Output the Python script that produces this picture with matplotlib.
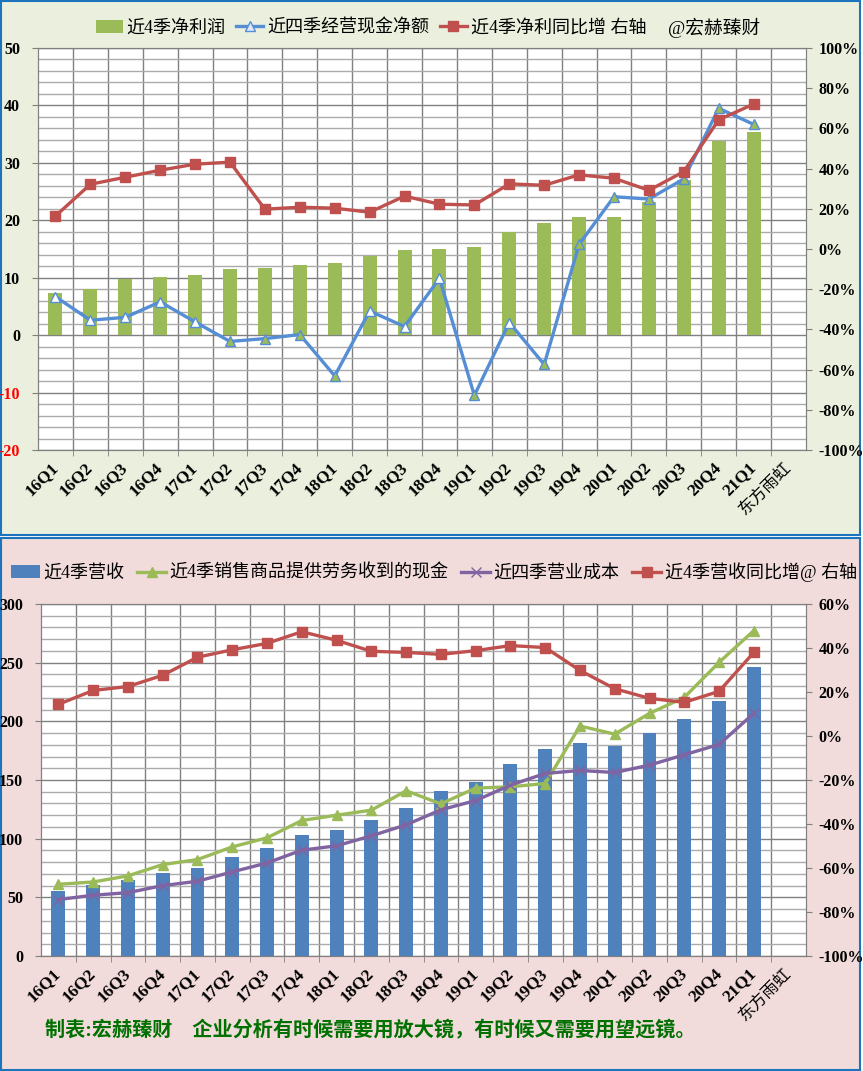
import numpy as np
import matplotlib.pyplot as plt
from matplotlib.patches import Rectangle, Patch
from matplotlib.lines import Line2D

plt.rcParams['font.family'] = ['Liberation Serif', 'Noto Sans CJK SC']

quarters = ['16Q1', '16Q2', '16Q3', '16Q4', '17Q1', '17Q2', '17Q3', '17Q4',
            '18Q1', '18Q2', '18Q3', '18Q4', '19Q1', '19Q2', '19Q3', '19Q4',
            '20Q1', '20Q2', '20Q3', '20Q4', '21Q1']
x_labels = quarters + ['东方雨虹']

# top chart (亿元, %)
net_profit = [7.3, 8.0, 9.8, 10.2, 10.5, 11.5, 11.7, 12.2, 12.6, 13.7, 14.8, 15.0,
              15.35, 18.0, 19.5, 20.6, 20.6, 23.2, 27.1, 33.8, 35.4]
op_cash = [6.7, 2.6, 3.1, 5.8, 2.3, -1.1, -0.6, 0.1, -7.1, 4.2, 1.5, 9.9,
           -10.5, 2.2, -5.1, 15.8, 24.1, 23.7, 27.2, 39.5, 36.7]
profit_yoy = [16.4, 32.2, 35.7, 39.2, 42.2, 43.2, 19.8, 20.8, 20.3, 18.3, 26.3, 22.3,
              21.9, 32.4, 31.7, 36.9, 35.2, 29.2, 38.5, 64.3, 72.1]

# bottom chart (亿元, %)
revenue = [55.2, 60.3, 64.6, 70.5, 75.1, 84.5, 92.1, 103.0, 107.5, 115.8, 126.0, 140.5,
           148.2, 163.5, 176.3, 181.4, 178.9, 190.0, 201.9, 217.3, 246.3]
sales_cash = [61.1, 63.1, 68.3, 77.9, 82.2, 93.0, 100.7, 115.5, 120.0, 124.3, 140.8, 129.7,
              143.1, 144.2, 147.0, 196.0, 189.1, 206.8, 220.4, 250.3, 277.3]
op_cost = [48.1, 51.8, 54.0, 60.0, 63.7, 71.7, 79.3, 90.2, 93.9, 102.4, 111.8, 124.6,
           132.5, 145.6, 155.6, 158.1, 156.4, 162.7, 171.5, 180.3, 206.8]
revenue_yoy = [14.4, 20.7, 22.5, 27.6, 35.8, 39.2, 42.1, 47.4, 43.5, 38.5, 38.0, 37.1,
               38.8, 41.1, 40.2, 29.8, 21.5, 17.1, 15.3, 20.3, 38.0]

W, H = 863, 1071
fig = plt.figure(figsize=(W / 100, H / 100), dpi=100)
fig.patch.set_facecolor('white')


def fx(px):
    return px / W


def fy(py):
    return 1 - py / H


def panel(top, bottom, color):
    fig.patches.append(Rectangle((fx(1), fy(bottom)), fx(860) - fx(1), fy(top) - fy(bottom),
                                 transform=fig.transFigure, facecolor=color,
                                 edgecolor='#1C75BC', lw=1.5, zorder=-10))


def make_axes(left, right, top, bottom):
    return fig.add_axes([fx(left), fy(bottom), fx(right) - fx(left), fy(top) - fy(bottom)])


def style(ax, ax2, yticks, minor_step, rticks):
    x = np.arange(len(x_labels))
    ax.set_xlim(-0.5, len(x_labels) - 0.5)
    ax.set_ylim(yticks[0], yticks[-1])
    ax.set_xticks(x)
    ax.set_xticks(np.arange(0.5, len(x_labels) - 0.5, 1), minor=True)
    ax.set_xticklabels(x_labels, rotation=45, ha='right', va='center', rotation_mode='anchor',
                       fontweight='bold', fontsize=12.5)
    last = ax.get_xticklabels()[-1]
    last.set_fontweight('normal')
    last.set_fontfamily('Noto Sans CJK SC')
    last.set_fontsize(12)
    ax.set_yticks(yticks)
    ax.set_yticks(np.arange(yticks[0], yticks[-1], minor_step), minor=True)
    ax.set_yticklabels([str(v) for v in yticks], fontweight='bold', fontsize=11.5)
    for v, lab in zip(yticks, ax.get_yticklabels()):
        if v < 0:
            lab.set_color('red')
    ax.set_axisbelow(True)
    ax.xaxis.grid(True, which='minor', color='#808080', lw=1)
    ax.yaxis.grid(True, which='major', color='#808080', lw=1)
    ax.yaxis.grid(True, which='minor', color='#ABABAB', lw=1)
    ax.tick_params(axis='x', which='major', length=0, pad=11)
    ax.tick_params(axis='x', which='minor', length=4, color='#808080')
    ax.tick_params(axis='y', which='major', length=4, color='#808080', pad=9)
    ax.tick_params(axis='y', which='minor', length=0)
    ax.set_facecolor('white')

    ax2.set_ylim(rticks[0], rticks[-1])
    ax2.set_yticks(rticks)
    ax2.set_yticklabels([f'{v}%' for v in rticks], fontweight='bold', fontsize=11.5)
    ax2.tick_params(axis='y', length=4, color='#808080', pad=5)
    for a in (ax, ax2):
        for s in a.spines.values():
            s.set_color('#808080')


# ---- top panel ----
panel(1, 535, '#EBF0DE')
ax = make_axes(38, 806, 48, 450)
ax2 = ax.twinx()
style(ax, ax2, list(range(-20, 51, 10)), 2, list(range(-100, 101, 20)))

x = np.arange(len(quarters))
ax.bar(x, net_profit, width=0.4, color='#9BBB59', zorder=2)
ax.plot(x, op_cash, color='#558ED5', lw=2.4, zorder=3)
filled = [5, 6, 7, 8, 12, 14, 15, 16, 17, 18, 19, 20]
hollow = [i for i in x if i not in filled]
ax.plot(x[hollow], np.array(op_cash)[hollow], ls='none', marker='^', ms=7,
        mfc='white', mec='#558ED5', mew=1, zorder=4)
ax.plot(x[filled], np.array(op_cash)[filled], ls='none', marker='^', ms=7,
        mfc='#9BBB59', mec='#558ED5', mew=1, zorder=4)
ax2.plot(x, profit_yoy, color='#C0504D', lw=2.4, marker='s', ms=6.5, zorder=3)

h_top = [Patch(facecolor='#9BBB59'),
         Line2D([], [], color='#558ED5', lw=2.4, marker='^', ms=7, mfc='#DDE8F5', mec='#558ED5'),
         Line2D([], [], color='#C0504D', lw=2.4, marker='s', ms=6.5)]
fig.legend(h_top, ['近4季净利润', '近四季经营现金净额', '近4季净利同比增 右轴'],
           loc='center', bbox_to_anchor=(fx(371), fy(28)), ncol=3, frameon=False,
           handlelength=1.5, handletextpad=0.2, columnspacing=0.6,
           prop={'family': ['Liberation Serif', 'Noto Sans CJK SC'], 'size': 13})
fig.text(fx(668), fy(28), '@宏赫臻财', fontsize=13.5, va='center', ha='left')

# ---- bottom panel ----
panel(538, 1070, '#F2DCDB')
bx = make_axes(41, 806, 604, 956)
bx2 = bx.twinx()
style(bx, bx2, list(range(0, 301, 50)), 10, list(range(-100, 61, 20)))

bx.bar(x, revenue, width=0.4, color='#4F81BD', zorder=2)
bx.plot(x, sales_cash, color='#9BBB59', lw=2.4, marker='^', ms=7, zorder=3)
bx.plot(x, op_cost, color='#8064A2', lw=2.4, marker='x', ms=7, mew=1, zorder=4)
bx2.plot(x, revenue_yoy, color='#C0504D', lw=2.4, marker='s', ms=6.5, zorder=3)

h_bot = [Patch(facecolor='#4F81BD'),
         Line2D([], [], color='#9BBB59', lw=2.4, marker='^', ms=7),
         Line2D([], [], color='#8064A2', lw=2.4, marker='x', ms=7, mew=1),
         Line2D([], [], color='#C0504D', lw=2.4, marker='s', ms=6.5)]
fig.legend(h_bot, ['近4季营收', '近4季销售商品提供劳务收到的现金', '近四季营业成本', '近4季营收同比增@ 右轴'],
           loc='center', bbox_to_anchor=(fx(434), fy(572)), ncol=4, frameon=False,
           handlelength=1.6, handletextpad=0.2, columnspacing=0.7,
           prop={'family': ['Liberation Serif', 'Noto Sans CJK SC'], 'size': 13})

fig.text(fx(45), fy(1031), '制表:宏赫臻财    企业分析有时候需要用放大镜，有时候又需要用望远镜。',
         fontsize=14.5, color='#007000', va='center', ha='left', fontweight='bold')

fig.savefig('out.png', dpi=100, facecolor=fig.get_facecolor())
